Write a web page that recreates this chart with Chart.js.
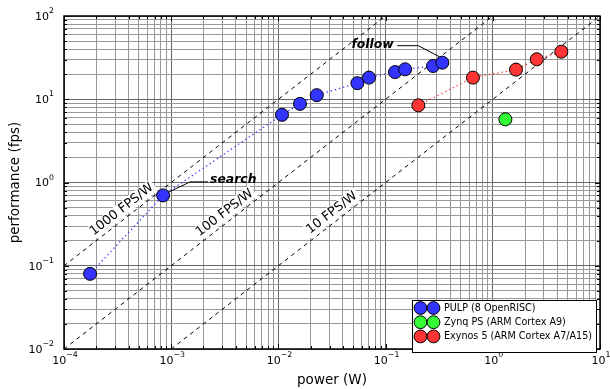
<!DOCTYPE html>
<html>
<head>
<meta charset="utf-8">
<script src="https://cdn.jsdelivr.net/npm/chart.js@4.4.0/dist/chart.umd.min.js"></script>
<style>
  html, body { margin: 0; padding: 0; background: #fff; }
  #wrap { width: 610px; height: 389px; }
</style>
</head>
<body>
<div id="wrap"><canvas id="myChart"></canvas></div>
<script>
// PULP (8 OpenRISC) - power in W, performance in fps
var pulpPower = [1.75e-4, 8.4e-4, 0.0108, 0.0159, 0.0228, 0.0545, 0.070, 0.1225, 0.152, 0.277, 0.338];
var pulpFps   = [0.08, 0.70, 6.5, 8.8, 11.2, 15.6, 18.2, 21.2, 22.9, 25.1, 27.5];

// Zynq PS (ARM Cortex A9)
var zynqPower = [1.31];
var zynqFps   = [5.74];

// Exynos 5 (ARM Cortex A7/A15)
var exynosPower = [0.202, 0.653, 1.645, 2.57, 4.36];
var exynosFps   = [8.45, 18.2, 22.7, 30.2, 37.3];

// iso-efficiency lines
var effValues = [1000, 100, 10];
var effLabels = ["1000 FPS/W", "100 FPS/W", "10 FPS/W"];
var effLabelLogX = [-3.41, -2.45, -1.45];

// axis decades (exponents of 10)
var xDecades = [-4, -3, -2, -1, 0, 1];
var yDecades = [-2, -1, 0, 1, 2];

var seriesNames = ["PULP (8 OpenRISC)", "Zynq PS (ARM Cortex A9)", "Exynos 5 (ARM Cortex A7/A15)"];
var seriesColors = ["#3434ff", "#34ff34", "#ff3434"];

var xMin = Math.pow(10, xDecades[0]), xMax = Math.pow(10, xDecades[xDecades.length - 1]);
var yMin = Math.pow(10, yDecades[0]), yMax = Math.pow(10, yDecades[yDecades.length - 1]);

function toPoints(xs, ys) {
    var pts = [];
    for (var i = 0; i < xs.length; i++) pts.push({x: xs[i], y: ys[i]});
    return pts;
}

function logTicks(decades) {
    var t = [];
    for (var i = 0; i < decades.length - 1; i++) {
        for (var k = 1; k <= 9; k++) t.push({value: k * Math.pow(10, decades[i])});
    }
    t.push({value: Math.pow(10, decades[decades.length - 1])});
    return t;
}

function isDecade(v) {
    var l = Math.log10(v);
    return Math.abs(l - Math.round(l)) < 1e-6;
}

var datasets = [];
var xsList = [pulpPower, zynqPower, exynosPower];
var ysList = [pulpFps, zynqFps, exynosFps];
for (var s = 0; s < 3; s++) {
    datasets.push({
        label: seriesNames[s],
        data: toPoints(xsList[s], ysList[s]),
        showLine: xsList[s].length > 1,
        borderColor: seriesColors[s],
        borderWidth: 1.3,
        borderDash: [1.3, 3],
        backgroundColor: seriesColors[s],
        pointBackgroundColor: seriesColors[s],
        pointBorderColor: "#000",
        pointBorderWidth: 1,
        pointRadius: 6.5,
        order: 1
    });
}
// FPS/W dashed lines
for (var e = 0; e < effValues.length; e++) {
    var k = effValues[e];
    var x0 = Math.max(xMin, yMin / k), x1 = Math.min(xMax, yMax / k);
    datasets.push({
        label: effLabels[e],
        data: [{x: x0, y: x0 * k}, {x: x1, y: x1 * k}],
        showLine: true,
        borderColor: "#000",
        borderWidth: 1,
        borderDash: [4, 4],
        pointRadius: 0,
        order: 2
    });
}

function drawPow(ctx, exp, x, y, align) {
    var base = "10", sup = String(exp).replace("-", "\u2212");
    ctx.font = "11px 'DejaVu Sans'";
    var wb = ctx.measureText(base).width;
    ctx.font = "7.8px 'DejaVu Sans'";
    var ws = ctx.measureText(sup).width;
    var left = align === "right" ? x - wb - ws : x - (wb + ws) / 2 + 1;
    ctx.textAlign = "left";
    ctx.textBaseline = "middle";
    ctx.fillStyle = "#000";
    ctx.font = "11px 'DejaVu Sans'";
    ctx.fillText(base, left, y);
    ctx.font = "7.8px 'DejaVu Sans'";
    ctx.fillText(sup, left + wb, y - 6);
}

var decor = {
    id: "decor",
    beforeDatasetsDraw: function(chart) {
        var ctx = chart.ctx, xs = chart.scales.x, ys = chart.scales.y;
        // rotated FPS/W labels with white box
        for (var e = 0; e < effValues.length; e++) {
            var k = effValues[e];
            var lx = Math.pow(10, effLabelLogX[e]);
            var px = xs.getPixelForValue(lx), py = ys.getPixelForValue(lx * k);
            var p2x = xs.getPixelForValue(lx * 10), p2y = ys.getPixelForValue(lx * 10 * k);
            var ang = Math.atan2(p2y - py, p2x - px);
            var d = 9;
            var cx = px + Math.sin(ang) * d, cy = py - Math.cos(ang) * d;
            ctx.save();
            ctx.translate(cx, cy);
            ctx.rotate(ang);
            ctx.font = "12.8px 'DejaVu Sans'";
            var w = ctx.measureText(effLabels[e]).width;
            ctx.fillStyle = "#fff";
            ctx.fillRect(-w / 2 - 2, -7, w + 4, 14);
            ctx.fillStyle = "#000";
            ctx.textAlign = "center";
            ctx.textBaseline = "middle";
            ctx.fillText(effLabels[e], 0, 0);
            ctx.restore();
        }
    },
    afterDatasetsDraw: function(chart) {
        var ctx = chart.ctx, xs = chart.scales.x, ys = chart.scales.y, a = chart.chartArea;
        ctx.save();
        // annotations
        var p = chart.getDatasetMeta(0).data;
        var sp = p[1], fp = p[10];
        ctx.strokeStyle = "#000";
        ctx.lineWidth = 1;
        ctx.setLineDash([]);
        ctx.beginPath();
        ctx.moveTo(sp.x + 45, sp.y - 13.5);
        ctx.lineTo(sp.x + 27, sp.y - 13.5);
        ctx.lineTo(sp.x + 5, sp.y - 3);
        ctx.stroke();
        ctx.beginPath();
        ctx.moveTo(fp.x - 45, fp.y - 17);
        ctx.lineTo(fp.x - 24, fp.y - 17);
        ctx.lineTo(fp.x - 3, fp.y - 6);
        ctx.stroke();
        ctx.font = "italic bold 12.4px 'DejaVu Sans'";
        ctx.fillStyle = "#000";
        ctx.textBaseline = "middle";
        ctx.textAlign = "left";
        ctx.fillText("search", sp.x + 47, sp.y - 16);
        ctx.textAlign = "right";
        ctx.fillText("follow", fp.x - 48.5, fp.y - 17.5);

        // frame and inward ticks
        ctx.lineWidth = 1;
        ctx.strokeStyle = "#000";
        ctx.beginPath();
        xs.ticks.forEach(function(t) {
            var x = Math.round(xs.getPixelForValue(t.value)) + 0.5;
            var len = isDecade(t.value) ? 5 : 3;
            ctx.moveTo(x, a.bottom); ctx.lineTo(x, a.bottom - len);
            ctx.moveTo(x, a.top); ctx.lineTo(x, a.top + len);
        });
        ys.ticks.forEach(function(t) {
            var y = Math.round(ys.getPixelForValue(t.value)) + 0.5;
            var len = isDecade(t.value) ? 5 : 3;
            ctx.moveTo(a.left, y); ctx.lineTo(a.left + len, y);
            ctx.moveTo(a.right, y); ctx.lineTo(a.right - len, y);
        });
        ctx.stroke();
        ctx.lineWidth = 1.5;
        ctx.strokeRect(a.left, a.top, a.right - a.left, a.bottom - a.top);

        // tick labels
        xDecades.forEach(function(ex) {
            drawPow(ctx, ex, xs.getPixelForValue(Math.pow(10, ex)), a.bottom + 12, "center");
        });
        yDecades.forEach(function(ex) {
            drawPow(ctx, ex, a.left - 10, ys.getPixelForValue(Math.pow(10, ex)) + 1, "right");
        });

        // legend with two markers per entry
        var lx = 412, ly = 300, lw = 184, lh = 52;
        ctx.fillStyle = "#fff";
        ctx.fillRect(lx, ly, lw, lh);
        ctx.lineWidth = 1;
        ctx.strokeStyle = "#000";
        ctx.strokeRect(lx + 0.5, ly + 0.5, lw, lh);
        for (var s = 0; s < 3; s++) {
            var ry = ly + 8 + s * 14.2;
            [420.5, 433.5].forEach(function(mx) {
                ctx.beginPath();
                ctx.arc(mx, ry, 6.4, 0, Math.PI * 2);
                ctx.fillStyle = seriesColors[s];
                ctx.fill();
                ctx.stroke();
            });
            ctx.fillStyle = "#000";
            ctx.font = "9.6px 'DejaVu Sans'";
            ctx.textAlign = "left";
            ctx.textBaseline = "middle";
            ctx.fillText(seriesNames[s], 444, ry);
        }
        ctx.restore();
    }
};

var ctx = document.getElementById("myChart");
var myChart = new Chart(ctx, {
    type: "scatter",
    data: { datasets: datasets },
    options: {
        responsive: true,
        maintainAspectRatio: false,
        animation: false,
        layout: { padding: { top: 16, right: 10, left: 0, bottom: 0 } },
        plugins: { legend: { display: false }, tooltip: { enabled: false } },
        scales: {
            x: {
                type: "logarithmic",
                min: xMin, max: xMax,
                afterBuildTicks: function(scale) { scale.ticks = logTicks(xDecades); },
                afterFit: function(scale) { scale.height = 40; },
                ticks: { display: false, autoSkip: false },
                grid: {
                    drawTicks: false,
                    color: function(c) { return c.tick && isDecade(c.tick.value) ? "#666" : "#999"; },
                    lineWidth: 1
                },
                border: { display: false },
                title: { display: true, text: "power (W)", color: "#000",
                         font: { family: "'DejaVu Sans'", size: 13.5 }, padding: { top: 0, bottom: 0 } }
            },
            y: {
                type: "logarithmic",
                min: yMin, max: yMax,
                afterBuildTicks: function(scale) { scale.ticks = logTicks(yDecades); },
                afterFit: function(scale) { scale.width = 64; },
                ticks: { display: false, autoSkip: false },
                grid: {
                    drawTicks: false,
                    color: function(c) { return c.tick && isDecade(c.tick.value) ? "#666" : "#999"; },
                    lineWidth: 1
                },
                border: { display: false },
                title: { display: true, text: "performance (fps)", color: "#000",
                         font: { family: "'DejaVu Sans'", size: 13.5 }, padding: { top: 7, bottom: 0 } }
            }
        }
    },
    plugins: [decor]
});
</script>
</body>
</html>
